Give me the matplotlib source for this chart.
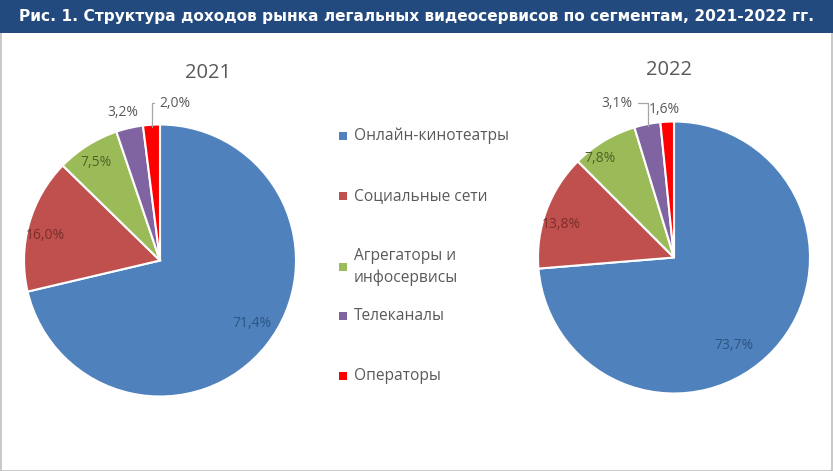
import numpy as np
import matplotlib
matplotlib.use('Agg')
import matplotlib.pyplot as plt
from matplotlib.patches import Rectangle

# data
categories = ['Онлайн-кинотеатры', 'Социальные сети', 'Агрегаторы и\nинфосервисы',
              'Телеканалы', 'Операторы']
share_2021 = [71.4, 16.0, 7.5, 3.2, 2.0]
share_2022 = [73.7, 13.8, 7.8, 3.1, 1.6]
years = ['2021', '2022']

colors = ['#4f81bd', '#c0504d', '#9bbb59', '#8064a2', '#ff0000']
label_colors = ['#2d5482', '#7a2e2c', '#4f6228', '#595959', '#595959']
title = 'Рис. 1. Структура доходов рынка легальных видеосервисов по сегментам, 2021-2022 гг.'

W, H = 833, 471
fig = plt.figure(figsize=(W / 100, H / 100), dpi=100)
plt.rcParams['font.family'] = ['Open Sans', 'DejaVu Sans']

# frame and title banner
fig.patches.append(Rectangle((0.5 / W, 0.5 / H), 1 - 1.5 / W, 1 - 1 / H, transform=fig.transFigure,
                             facecolor='white', edgecolor='#bfbfbf', lw=1.2, zorder=-2))
fig.patches.append(Rectangle((0, 1 - 33 / H), 1, 33 / H, transform=fig.transFigure,
                             facecolor='#224a7e', edgecolor='none', zorder=-1))
fig.text(0.5, 1 - 17 / H, title, color='white', fontsize=11.05, fontweight='bold',
         family='DejaVu Sans', ha='center', va='center')


def pix_axes(cx, cy, r):
    return fig.add_axes([(cx - r) / W, (H - cy - r) / H, 2 * r / W, 2 * r / H])


# label placement per slice: (radius, angle shift in degrees)
place = {
    '2021': [(0.82, 4), (0.86, 3), (0.86, 1), (1.12, 1), (1.16, -9)],
    '2022': [(0.78, -13), (0.86, 4), (0.91, 6), (1.21, 9), (1.09, 1)],
}
leader = {'2021': 4, '2022': 3}

for year, vals, (cx, cy) in zip(years, [share_2021, share_2022], [(160, 260.5), (674, 257.5)]):
    ax = pix_axes(cx, cy, 136)
    wedges, _ = ax.pie(vals, colors=colors, startangle=90, counterclock=False, radius=1,
                       wedgeprops=dict(edgecolor='white', linewidth=1.5))
    ax.set_xlim(-1, 1)
    ax.set_ylim(-1, 1)
    ax.axis('off')
    ax.text(0.35 if year == '2021' else -0.04, 1.38, year, ha='center', va='center',
            fontsize=14.5, color='#595959')
    for i, (w, v) in enumerate(zip(wedges, vals)):
        mid = np.deg2rad((w.theta1 + w.theta2) / 2 + place[year][i][1])
        r = place[year][i][0]
        lx, ly = r * np.cos(mid), r * np.sin(mid)
        txt = f'{v:.1f}%'.replace('.', ',')
        if i == leader[year]:
            wm = np.deg2rad((w.theta1 + w.theta2) / 2)
            ax.annotate(txt, xy=(0.985 * np.cos(wm), 0.985 * np.sin(wm)), xytext=(lx, ly),
                        ha='center', va='center', fontsize=10, color=label_colors[i],
                        annotation_clip=False,
                        arrowprops=dict(arrowstyle='-', color='#a6a6a6', lw=0.9,
                                        shrinkA=2, shrinkB=0,
                                        connectionstyle='angle,angleA=0,angleB=90,rad=0'))
        else:
            ax.text(lx, ly, txt, ha='center', va='center', fontsize=10, color=label_colors[i])

# legend
legend_y = [136, 196, 267, 316, 376]
for c, lab, y in zip(colors, categories, legend_y):
    fig.patches.append(Rectangle((339 / W, (H - y - 4) / H), 8 / W, 8 / H,
                                 transform=fig.transFigure, facecolor=c, edgecolor='none'))
    fig.text(354 / W, 1 - y / H, lab, ha='left', va='center', fontsize=11.2, color='#595959',
             linespacing=1.45)

fig.savefig('out.png', dpi=100)
